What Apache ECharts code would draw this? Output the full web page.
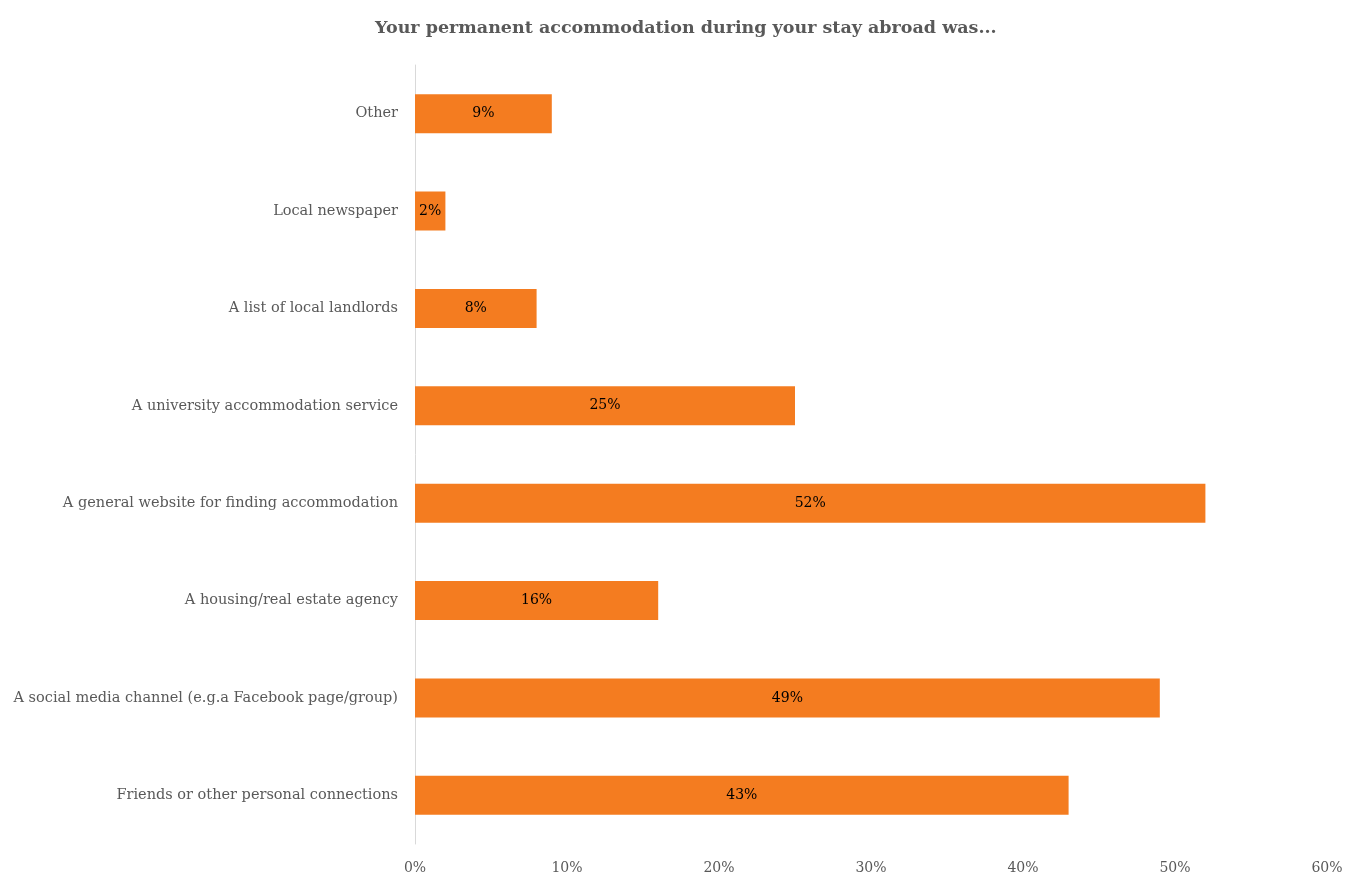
<!DOCTYPE html>
<html><head><meta charset="utf-8">
<script src="https://cdn.jsdelivr.net/npm/echarts@6/dist/echarts.min.js"></script>
<style>html,body{margin:0;padding:0;background:#fff}#c{width:1347px;height:877px}</style>
</head><body><div id="c"></div>
<script>
const categories = ["Friends or other personal connections","A social media channel (e.g.a Facebook page/group)","A housing/real estate agency","A general website for finding accommodation","A university accommodation service","A list of local landlords","Local newspaper","Other"];
const values = [43,49,16,52,25,8,2,9];
const xTicks = [0,10,20,30,40,50,60];
const FONT = "DejaVu Serif";
const chart = echarts.init(document.getElementById('c'));
chart.setOption({
  animation:false,
  title:{text:"Your permanent accommodation during your stay abroad was...",left:370,top:14,
    textStyle:{fontFamily:FONT,fontSize:17.5,fontWeight:'bold',color:'#595959'}},
  grid:{left:415,right:20,top:65,bottom:33,containLabel:false},
  xAxis:{type:'value',min:xTicks[0],max:xTicks[xTicks.length-1],interval:10,
    axisLine:{show:false},axisTick:{show:false},splitLine:{show:false},
    axisLabel:{formatter:'{value}%',fontFamily:FONT,fontSize:14,color:'#595959',margin:17}},
  yAxis:{type:'category',data:categories,
    axisLine:{show:true,lineStyle:{color:'#d9d9d9',width:1}},axisTick:{show:false},
    axisLabel:{fontFamily:FONT,fontSize:14.5,color:'#595959',margin:17}},
  series:[{type:'bar',data:values,barWidth:'40%',itemStyle:{color:'#F47C20'},
    label:{show:true,position:'inside',formatter:'{c}%',fontFamily:FONT,fontSize:14,color:'#000'}}]
});
</script></body></html>
